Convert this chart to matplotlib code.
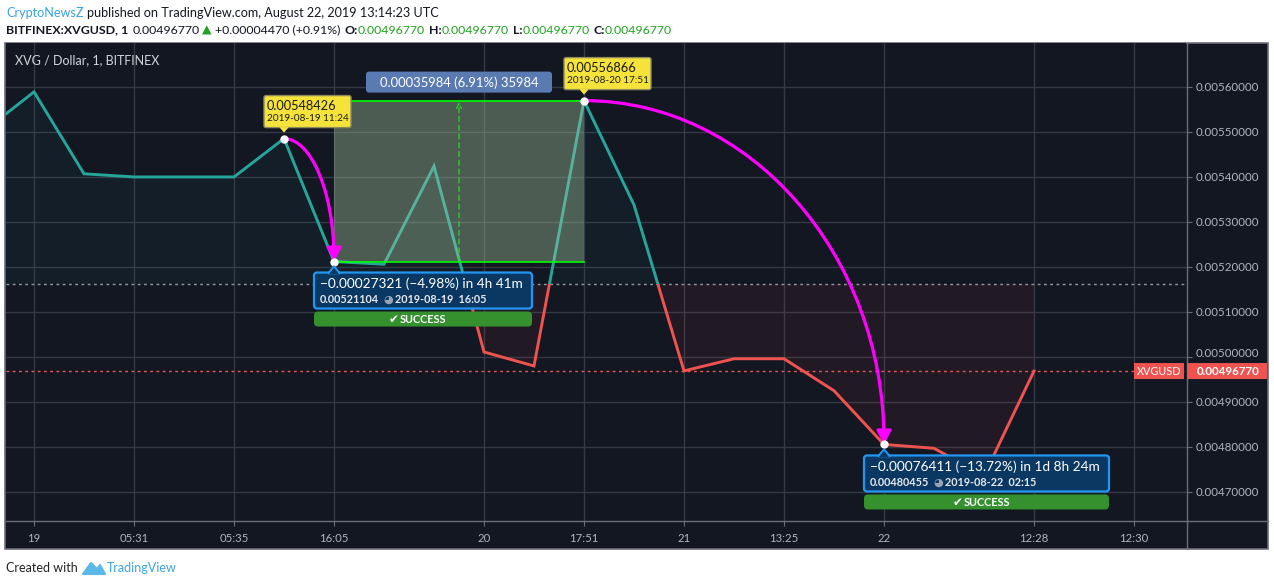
import matplotlib
matplotlib.use("Agg")
import matplotlib.pyplot as plt
import matplotlib.transforms as mtransforms
from matplotlib.patches import Rectangle, FancyBboxPatch, Polygon, FancyArrowPatch, ArrowStyle
from matplotlib.path import Path

W, H, DPI = 1274, 586, 100
FONT = ["Lato", "DejaVu Sans"]
plt.rcParams["font.family"] = FONT

# ---------------- data ----------------
bar_index = list(range(22))
prices = [0.005501, 0.005588, 0.005406, 0.005399, 0.005399, 0.005399,
          0.00548426, 0.00521104, 0.005205, 0.005423, 0.005010, 0.004979,
          0.00556866, 0.005337, 0.004968, 0.004995, 0.004995, 0.004924,
          0.00480455, 0.004796, 0.004735, 0.0049677]
baseline_price = 0.005161
last_price = 0.0049677
time_tick_pos = [1, 3, 5, 7, 10, 12, 14, 16, 18, 21, 23]
time_tick_labels = ["19", "05:31", "05:35", "16:05", "20", "17:51", "21",
                    "13:25", "22", "12:28", "12:30"]
price_ticks = [0.0047, 0.0048, 0.0049, 0.0050, 0.0051, 0.0052, 0.0053,
               0.0054, 0.0055, 0.0056]
price_tick_labels = ["%.8f" % v for v in price_ticks]
# annotation anchors (bar indices)
i_hi1, i_lo1, i_hi2, i_lo2 = 6, 7, 12, 18

# colours
BG = "#131722"
GRID = "#343945"
FRAME = "#6b6e79"
UP = "#26a69a"
DOWN = "#ef5350"
AXTXT = "#b2b5be"
MAG = "#ff00ff"

fig = plt.figure(figsize=(W / DPI, H / DPI), dpi=DPI, facecolor="white")
ID = mtransforms.IdentityTransform()


def D(x, y):
    """top-left pixel -> display coords"""
    return (x, H - y)


# panel background & frame
fig.add_artist(Rectangle(D(5, 549), 1263, 506, facecolor=BG, edgecolor=FRAME,
                         lw=1.2, transform=ID, zorder=0))

ax = fig.add_axes([6 / W, 1 - 520 / H, 1180 / W, 477 / H])
ax.set_facecolor(BG)
for s in ax.spines.values():
    s.set_visible(False)
XL = (0.44, 24.04)
YL = (0.00463667, 0.00569667)
ax.set_xlim(*XL)
ax.set_ylim(*YL)
ax.set_axisbelow(True)
ax.grid(True, color=GRID, lw=1.0)

ax.yaxis.tick_right()
ax.set_yticks(price_ticks)
ax.set_yticklabels(price_tick_labels)
ax.tick_params(axis="y", length=4, width=0.8, color=FRAME, labelcolor=AXTXT,
               labelsize=8.3, pad=3)
ax.set_xticks(time_tick_pos)
ax.set_xticklabels(time_tick_labels)
ax.tick_params(axis="x", length=4, width=0.8, color=FRAME, labelcolor=AXTXT,
               labelsize=8.2, pad=5)
# TradingView nudges the 0.005 label up to avoid the price label
for lab in ax.get_yticklabels():
    if lab.get_text() == "0.00500000":
        lab.set_transform(lab.get_transform() +
                          mtransforms.ScaledTranslation(0, 4 / DPI, fig.dpi_scale_trans))

# baseline fills
ax.fill_between(bar_index, prices, baseline_price,
                where=[p >= baseline_price for p in prices], interpolate=True,
                color=UP, alpha=0.05, lw=0, zorder=1)
ax.fill_between(bar_index, prices, baseline_price,
                where=[p <= baseline_price for p in prices], interpolate=True,
                color=DOWN, alpha=0.065, lw=0, zorder=1)

# baseline line split by colour (clip above / below baseline, inside axes)
l_up, = ax.plot(bar_index, prices, color=UP, lw=2.1, zorder=3,
                solid_joinstyle="miter")
l_dn, = ax.plot(bar_index, prices, color=DOWN, lw=2.1, zorder=3,
                solid_joinstyle="miter")
clip_up = Rectangle((XL[0], baseline_price), XL[1] - XL[0], YL[1] - baseline_price,
                    transform=ax.transData)
clip_dn = Rectangle((XL[0], YL[0]), XL[1] - XL[0], baseline_price - YL[0],
                    transform=ax.transData)
l_up.set_clip_path(clip_up)
l_dn.set_clip_path(clip_dn)

# dotted baseline and last-price lines
ax.axhline(baseline_price, color="#9598a1", lw=1, ls=(0, (2, 2.5)), zorder=2)
ax.axhline(last_price, color=DOWN, lw=1, ls=(0, (2, 2.5)), zorder=2)

# ------------- measurement (price range) rectangle -------------
x0m, x1m = bar_index[i_lo1], bar_index[i_hi2]
y0m, y1m = prices[i_lo1], prices[i_hi2]
ax.add_patch(Rectangle((x0m, y0m), x1m - x0m, y1m - y0m, facecolor="#a3c49d",
                       alpha=0.4, lw=0, zorder=4))
ax.plot([x0m, x1m], [y1m, y1m], color="#00ff00", lw=1.2, zorder=5)
ax.plot([x0m, x1m], [y0m, y0m], color="#00ff00", lw=1.2, zorder=5)
ax.annotate("", xy=((x0m + x1m) / 2, y1m), xytext=((x0m + x1m) / 2, y0m),
            arrowprops=dict(arrowstyle="->", color="#22dd22", lw=0.9,
                            ls=(0, (4, 3)), shrinkA=0, shrinkB=1,
                            mutation_scale=9), zorder=5)

# ------------- magenta arcs -------------
def quarter_arc(ia, ib):
    xa, ya = bar_index[ia], prices[ia]
    xb, yb = bar_index[ib], prices[ib]
    k = 0.5523
    verts = [(xa, ya), (xa + k * (xb - xa), ya), (xb, yb + k * (ya - yb)), (xb, yb)]
    codes = [Path.MOVETO, Path.CURVE4, Path.CURVE4, Path.CURVE4]
    arr = FancyArrowPatch(path=Path(verts, codes),
                          arrowstyle=ArrowStyle("-|>", head_length=8, head_width=4.3),
                          color=MAG, lw=2.3, mutation_scale=1, zorder=7)
    ax.add_patch(arr)


quarter_arc(i_hi1, i_lo1)
quarter_arc(i_hi2, i_lo2)

for i in (i_hi1, i_lo1, i_hi2, i_lo2):
    ax.plot(bar_index[i], prices[i], "o", ms=5, color="white", mec="white",
            zorder=8)

# ---------------- overlays in pixel space ----------------
fig.canvas.draw()


def px_of(i):
    xd, yd = ax.transData.transform((bar_index[i], prices[i]))
    return xd, H - yd


def box(x, y, w, h, fc, ec="none", lw=0, r=2, z=10):
    fig.add_artist(FancyBboxPatch(D(x, y + h), w, h,
                                  boxstyle="round,pad=0,rounding_size=%g" % r,
                                  fc=fc, ec=ec, lw=lw, transform=ID, zorder=z))


def tri(pts, fc, ec="none", lw=0, z=10):
    fig.add_artist(Polygon([D(*p) for p in pts], closed=True, fc=fc, ec=ec,
                           lw=lw, transform=ID, zorder=z))


def txt(x, y, s, size, color, weight="normal", ha="left", va="center", z=12, fam=None):
    return fig.text(x / W, 1 - y / H, s, fontsize=size, color=color,
                    fontweight=weight, ha=ha, va=va, zorder=z,
                    family=fam if fam else FONT)


# yellow callouts
for i, l1, l2 in [(i_hi1, "0.00548426", "2019-08-19 11:24"),
                  (i_hi2, "0.00556866", "2019-08-20 17:51")]:
    axp, ayp = px_of(i)
    bx, by = axp - 20, ayp - 43
    tri([(axp - 5, by + 31), (axp + 5, by + 31), (axp, by + 37)], "#f5e33b", z=10)
    box(bx, by, 87, 32, "#f5e33b", ec="#8e8a5c", lw=1.0, r=2)
    tri([(axp - 4.5, by + 31.5), (axp + 4.5, by + 31.5), (axp, by + 36.5)], "#f5e33b", z=11)
    txt(bx + 3, by + 10, l1, 9.2, "#1b1b1b")
    txt(bx + 3, by + 23, l2, 7.2, "#1b1b1b")

# blue info boxes + success bars
for i, w, l1, l2a, l2b in [
        (i_lo1, 218, "\u22120.00027321 (\u22124.98%) in 4h 41m", "0.00521104", "2019-08-19  16:05"),
        (i_lo2, 245, "\u22120.00076411 (\u221213.72%) in 1d 8h 24m", "0.00480455", "2019-08-22  02:15")]:
    axp, ayp = px_of(i)
    bx, by = axp - 20, ayp + 11
    box(bx, by, w, 36, "#0b3862", ec="#2196f3", lw=1.6, r=3)
    tri([(axp - 6, by + 0.8), (axp + 6, by + 0.8), (axp, by - 6)], "#0b3862",
        ec="#2196f3", lw=1.4, z=10)
    tri([(axp - 5, by + 1.5), (axp + 5, by + 1.5), (axp, by - 4)], "#0b3862", z=11)
    txt(bx + 6, by + 11, l1, 9.8, "white")
    t = txt(bx + 6, by + 27, l2a, 7.8, "#e6e8ee", weight="bold")
    wpx = t.get_window_extent(fig.canvas.get_renderer()).width
    txt(bx + 10 + wpx, by + 27, "\u25D5", 8, "#9aa3b5", fam=["DejaVu Sans"])
    txt(bx + 22 + wpx, by + 27, l2b, 7.8, "#e6e8ee", weight="bold")
    box(bx, by + 39, w, 15, "#34912d", r=4)
    txt(bx + w / 2 - 34, by + 47, "\u2714", 8.5, "white", fam=["DejaVu Sans"])
    txt(bx + w / 2 - 23, by + 47, "SUCCESS", 7.8, "white", weight="bold")

# measurement label
mx0, my0 = ax.transData.transform((x0m, y1m))
mx1, _ = ax.transData.transform((x1m, y1m))
mcx, mtop = (mx0 + mx1) / 2, H - my0
box(mcx - 93, mtop - 29, 186, 21, "#5a7bb1", r=3)
txt(mcx, mtop - 18, "0.00035984 (6.91%) 35984", 9.4, "white", ha="center")

# last price labels
lx, ly = ax.transData.transform((bar_index[-1], last_price))
lyp = H - ly
box(1134, lyp - 8, 50, 16, DOWN, r=0)
txt(1159, lyp, "XVGUSD", 7.8, "white", ha="center")
box(1187, lyp - 8, 80, 16, DOWN, r=0)
txt(1197, lyp, "%.8f" % last_price, 8.3, "white", weight="bold")

# axis separators
fig.add_artist(plt.Line2D([1186.5, 1186.5], [H - 43, H - 549], color=FRAME,
                          lw=1, transform=ID, zorder=9))
fig.add_artist(plt.Line2D([6, 1268], [H - 520.5, H - 520.5], color=FRAME,
                          lw=1, transform=ID, zorder=9))

# chart title inside panel
txt(15, 60, "XVG / Dollar, 1, BITFINEX", 9.0, "#d1d4dc")

# ---------------- header ----------------
rend = fig.canvas.get_renderer()


def runs(x, y, parts, size):
    for s, color, weight, gap in parts:
        x += gap
        t = txt(x, y, s, size, color, weight=weight)
        x += t.get_window_extent(rend).width


GREEN = "#21a221"
DARK = "#131722"
runs(6, 13, [("CryptoNewsZ", "#3aa3e3", "normal", 0),
             ("published on TradingView.com, August 22, 2019 13:14:23 UTC", DARK, "normal", 3.5)], 9.1)
runs(6, 30, [("BITFINEX:XVGUSD, 1", DARK, "bold", 0),
             ("0.00496770", DARK, "normal", 4),
             ("\u25B2", GREEN, "normal", 3),
             ("+0.00004470 (+0.91%)", DARK, "normal", 3),
             ("O:", DARK, "bold", 4), ("0.00496770", GREEN, "normal", 0),
             ("H:", DARK, "bold", 4), ("0.00496770", GREEN, "normal", 0),
             ("L:", DARK, "bold", 4), ("0.00496770", GREEN, "normal", 0),
             ("C:", DARK, "bold", 4), ("0.00496770", GREEN, "normal", 0)], 8.95)

# ---------------- footer ----------------
txt(6, 568, "Created with", 9.0, "#222222")
fig.add_artist(Polygon([D(83, 574), D(91, 563), D(97, 569), D(100, 565),
                        D(105, 574)], closed=True, fc="#5bb8e8", ec="#5bb8e8",
                       lw=1.5, joinstyle="round", transform=ID, zorder=10))
txt(107, 568, "TradingView", 9.0, "#3aa3e3")

fig.savefig("out.png", dpi=DPI, facecolor="white")
